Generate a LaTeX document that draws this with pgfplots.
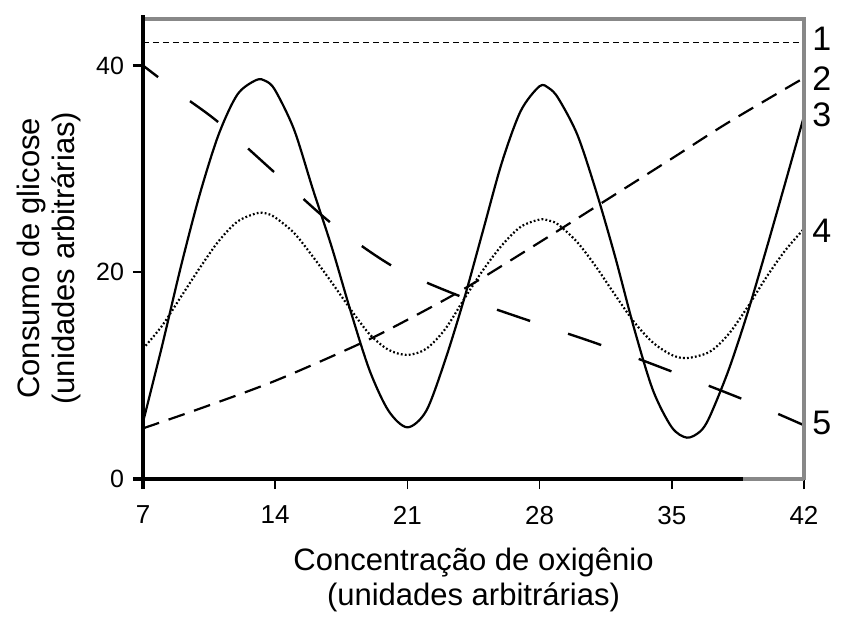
\documentclass[border=0pt]{standalone}
\usepackage{pgfplots}
\pgfplotsset{compat=1.18}
\usepackage{fontspec}
\setmainfont{Liberation Sans}
\definecolor{framegray}{RGB}{136,136,136}

\begin{document}
\begin{tikzpicture}
\begin{axis}[
    scale only axis,
    width=330.5pt, height=230pt,
    xmin=7, xmax=42, ymin=0, ymax=44.5,
    xtick={7,14,21,28,35,42},
    ytick={0,20,40},
    xtick pos=bottom, ytick pos=left,
    tick align=outside,
    major tick length=5pt,
    x tick style={black, line width=0.8pt},
    y tick style={black, line width=1.2pt},
    axis line style={draw=none},
    /pgf/number format/assume math mode=true,
    xticklabel style={font=\fontsize{13}{15}\selectfont, yshift=-5pt},
    yticklabel style={font=\fontsize{12.5}{14}\selectfont, xshift=-1pt},
    clip mode=individual,
    xlabel={Concentração de oxigênio\\(unidades arbitrárias)},
    ylabel={Consumo de glicose\\(unidades arbitrárias)},
    label style={font=\fontsize{15.5}{17.5}\selectfont, align=center},
    xlabel style={at={(axis description cs:0.5,-0.22)}, anchor=center},
    ylabel style={at={(axis description cs:-0.1415,0.48)}, anchor=center},
]
% 1: horizontal reference
\addplot[black, line width=0.5pt, dash pattern=on 3pt off 2pt] coordinates {(7,42.2) (42,42.2)};
% 2: short dashes, rising
\addplot[black, line width=1.1pt, smooth, dash pattern=on 8.5pt off 5pt] coordinates {
  (7,4.9) (10,6.8) (14,9.5) (18.5,13.1) (21,15.4) (24.1,18.5) (28,22.9) (31.2,26.6) (35,31.0) (38,34.5) (42,38.8)};
% 3: solid oscillation
\addplot[black, line width=1.1pt, smooth] coordinates {
  (7,5.5) (8,12.8) (9,20.5) (10,27.5) (11,33.3) (12,37.2) (13,38.6) (13.5,38.5) (14,37.6)
  (15,33.8) (16,28.0) (17,22.4) (18,16.2) (19,10.5) (20,6.6) (21,5.0) (22,6.6)
  (23,11.5) (24,17.4) (25,24.0) (26,30.6) (27,35.6) (28,38.0) (28.5,37.8) (29,36.8)
  (30,33.3) (31,27.8) (32,21.5) (33,14.6) (34,8.6) (35,5.0) (35.8,4.0) (36.5,4.6)
  (37,6.0) (38,10.5) (39,16.0) (40,22.2) (41,28.6) (42,35.1)};
% 4: dotted oscillation
\addplot[black, line width=1.1pt, smooth, dash pattern=on 0.9pt off 1.1pt] coordinates {
  (7,12.6) (8,14.8) (9,17.6) (10,20.4) (11,23.0) (12,24.9) (13,25.7) (13.5,25.7) (14,25.3)
  (15,23.8) (16,21.5) (17,19.0) (18,16.4) (19,14.0) (20,12.5) (21,12.0) (22,12.6)
  (23,14.5) (24,17.4) (25,20.2) (26,22.6) (27,24.4) (28,25.1) (28.5,25.0) (29,24.6)
  (30,22.9) (31,20.5) (32,17.8) (33,15.2) (34,13.2) (35,12.0) (35.8,11.7) (37,12.3)
  (38,14.0) (39,16.6) (40,19.5) (41,22.1) (42,24.2)};
% 5: long dashes, falling
\addplot[black, line width=1.2pt, smooth, dash pattern=on 17.5pt off 20pt, dash phase=8pt] coordinates {
  (7,40.0) (9,37.2) (11,34.5) (14,29.6) (17,24.7) (20.3,20.5) (23.9,17.6) (27.8,15.1)
  (31.2,13.0) (35,10.4) (39.2,7.4) (42,5.2)};
% curve numbers at the right edge
\node[anchor=west, inner sep=0pt, xshift=4pt, font=\fontsize{17}{19}\selectfont] at (axis cs:42,42.6) {1};
\node[anchor=west, inner sep=0pt, xshift=4pt, font=\fontsize{17}{19}\selectfont] at (axis cs:42,38.7) {2};
\node[anchor=west, inner sep=0pt, xshift=4pt, font=\fontsize{17}{19}\selectfont] at (axis cs:42,35.2) {3};
\node[anchor=west, inner sep=0pt, xshift=4pt, font=\fontsize{17}{19}\selectfont] at (axis cs:42,24.0) {4};
\node[anchor=west, inner sep=0pt, xshift=4pt, font=\fontsize{17}{19}\selectfont] at (axis cs:42,5.4) {5};
\end{axis}
% frame: grey top and right, black left and bottom
\draw[framegray, line width=2.2pt] ([xshift=-1pt]current axis.north west) -- (current axis.north east) -- ([yshift=-0.5pt]current axis.south east);
\draw[framegray, line width=2pt] ([xshift=0.908*330.5pt]current axis.south west) -- (current axis.south east);
\draw[black, line width=2pt] ([xshift=-5pt]current axis.south west) -- ([xshift=0.908*330.5pt]current axis.south west);
\draw[black, line width=2pt] ([yshift=-5pt]current axis.south west) -- ([yshift=2pt]current axis.north west);
\path[use as bounding box] ([xshift=-71.5pt,yshift=-68.5pt]current axis.south west) rectangle ([xshift=29pt,yshift=9.5pt]current axis.north east);
\end{tikzpicture}
\end{document}
